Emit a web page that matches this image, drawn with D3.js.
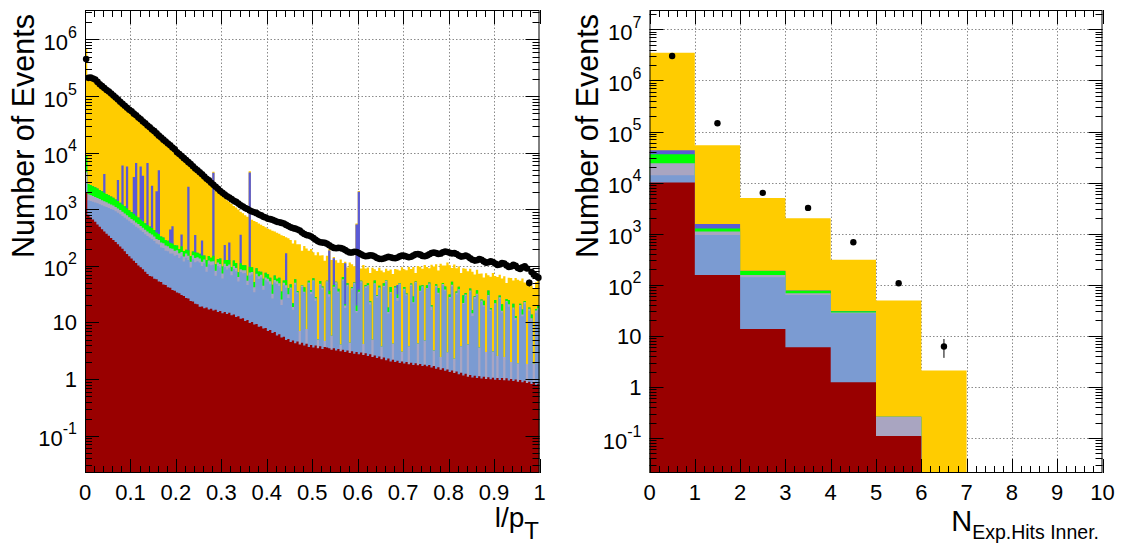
<!DOCTYPE html>
<html><head><meta charset="utf-8">
<script src="https://cdn.jsdelivr.net/npm/d3@7"></script>
<style>body{margin:0;background:#fff}svg{display:block}text{font-family:"Liberation Sans",Arial,Helvetica,sans-serif;fill:#000}</style>
</head><body><svg id="c" width="1123" height="544"></svg>
<script>
// ---------------- LEFT PANEL: l/pT, 200 bins of 0.005 ----------------
const lptBinWidth = 0.005;
const lptData = [450000,210000,212000,205000,196000,178000,162000,150000,139000,128000,
120000,111000,102000,94000,87000,79500,73000,67500,62000,57500,
53700,49000,45700,41700,38900,35500,33100,30200,28200,25700,
24000,21900,20000,18600,17000,15800,14500,13500,12300,11500,
10200,9500,8700,8000,7400,6800,6300,5750,5250,4900,
4500,4150,3800,3470,3240,2950,2700,2500,2300,2100,
1950,1820,1700,1620,1510,1410,1350,1260,1175,1120,
1050,1010,950,915,885,855,805,780,735,715,
680,670,650,625,600,590,575,560,530,505,
480,465,455,440,420,390,365,350,345,330,
310,290,272,262,258,255,245,232,218,208,
205,208,206,200,190,180,172,172,178,176,
168,160,152,148,150,154,152,146,138,133,
132,135,140,144,142,138,136,140,147,152,
150,146,142,145,152,160,162,158,150,148,
152,160,168,172,168,162,165,174,180,176,
170,166,168,162,152,146,148,152,146,136,
128,124,126,132,128,120,114,116,120,117,
110,104,106,112,110,102,96,98,104,100,
92,88,94,98,90,50,78,70,66,62];
const lptRed = [2000,800,725,660,600,540,490,445,405,370,
340,310,288,263,240,219,200,182,162,148,
135,123,112,102,95,87,79,72,66,65,
59,58,53,52,47,46,42,41,37.5,36.5,
34,33,30.5,29.5,27,26.5,24,23.5,21.5,21,
19,19.2,17.8,18.4,16.9,17.5,16.2,16.8,15.3,15.9,
14.6,15.3,14.1,14.8,13.4,13.9,12.5,12.9,11.6,11.9,
10.6,11.1,9.8,10.2,9.2,9.4,8.4,8.6,7.8,8.0,
7.1,7.4,6.5,6.8,5.9,6.2,5.4,5.6,4.9,5.1,
4.5,4.8,4.3,4.6,4.1,4.4,3.9,4.2,3.7,4.0,
3.6,3.9,3.5,3.8,3.4,3.7,3.6,3.5,3.3,3.5,
3.2,3.4,3.1,3.3,3.0,3.2,2.9,3.1,2.8,3.0,
2.75,2.95,2.65,2.85,2.55,2.75,2.45,2.6,2.35,2.5,
2.25,2.4,2.15,2.3,2.05,2.2,2.0,2.1,1.92,2.05,
1.88,2.0,1.82,1.95,1.78,1.9,1.75,1.85,1.7,1.8,
1.68,1.78,1.6,1.7,1.52,1.62,1.46,1.55,1.4,1.48,
1.33,1.42,1.28,1.36,1.22,1.3,1.16,1.24,1.1,1.18,
1.07,1.15,1.04,1.12,1.02,1.1,1.0,1.08,0.99,1.06,
0.97,1.05,0.96,1.04,0.95,1.03,0.94,1.0,0.92,0.98,
0.9,0.96,0.88,0.93,0.85,0.9,0.82,0.87,0.79,0.83];
const lptLightBlue = [1000,650,680,700,720,740,740,735,730,725,
715,700,690,660,630,600,560,530,500,465,
435,410,380,360,330,310,285,265,250,235,
215,190,185,160,160,140,140,125,128,115,
122,105,118,90,112,100,70,108,95,100,
96,80,94,60,90,85,88,50,84,78,
45,80,72,78,55,74,68,40,66,62,
64,35,58,60,25,56,50,54,30,48,
46,40,20,44,42,38,15,40,36,22,
34,12,42,28,0,38,30,0,45,28,
50,20,0,42,35,0,48,25,0,38,
45,30,0,52,15,40,0,35,44,12,
30,48,0,38,42,18,0,45,25,36,
0,40,50,12,30,0,38,22,45,0,
35,28,0,42,20,48,0,33,40,0,
38,45,15,0,40,30,0,44,35,0,
25,42,0,30,36,0,20,28,0,34,
12,25,30,0,22,18,0,28,15,0,
20,0,25,14,0,22,18,0,16,10,
0,18,12,20,0,15,10,0,14,16];
const lptGrey = [1500,400,380,350,330,310,290,270,250,230,
210,200,185,170,160,150,140,130,120,112,
105,98,92,86,80,75,70,66,62,58,
55,52,49,46,44,42,40,38,36,34,
32,30,28,27,26,25,24,23,22,21,
20,19,18.5,18,17,16.5,16,15.5,15,14.5,
14,13.5,13,12.5,12,11.5,11,10.5,10,9.5,
9,8.7,8.4,8.1,7.8,7.5,7.2,7,6.7,6.5,
6.2,6,5.8,5.6,5.4,5.2,5,4.8,4.6,4.4,
3,2,4,1.5,3,2.5,1,3.5,2,3,
2,3,1.5,2.5,3,1,2,3,2.5,1.5,
3,2,1,2.5,2,3,1.5,2,3,1,
2,2.5,1.5,3,1,2,2.5,1.5,2,3,
1.5,2,3,1,2.5,2,1.5,3,2,1,
2.5,1.5,2,3,1,2,2.5,1.5,2,3,
1,2,2.5,1.5,3,2,1,2.5,2,1.5,
2,3,1,2,1.5,2.5,1,2,3,1.5,
1.5,2,1,2.5,1.5,1,2,1.5,1,2,
1,1.5,2,1,1.5,1,2,1,1.5,1,
1,1.5,1,2,1,1.5,1,1,1.5,1];
const lptGreen = [4500,950,900,850,790,730,680,630,580,540,
500,470,430,400,370,340,310,285,260,240,
220,200,185,170,155,145,135,125,120,110,
100,90,80,72,65,60,55,52,48,45,
42,30,45,36,28,38,32,25,35,29,
28,34,22,30,26,20,31,25,18,27,
24,18,28,22,15,25,21,14,24,19,
19,12,20,16,10,18,14,9,15,13,
12,8,14,11,6,12,10,5,11,9,
6,3,8,2,0,1,7,0,4,2,
5,1,0,6,2,0,1,5,0,3,
1,4,0,6,1,3,0,2,1,4,
3,1,0,2,4,1,0,6,1,3,
0,5,1,3,8,0,2,4,1,0,
3,1,0,2,6,1,0,8,2,0,
5,2,1,0,3,7,0,2,5,0,
3,6,0,2,4,0,8,2,0,3,
2,1,5,0,1,4,0,6,1,0,
3,0,2,5,0,2,4,0,3,1,
0,1,3,1,0,1,2,0,1,2];
const lptBlueBins   = [8,14,16,18,21,22,24,25,27,29,31,32,37,38,42,45,48,51,56,61,63,68,72,88,107,109,114,119,120,137];
const lptBlueValues = [2240,1900,4700,4650,2870,5830,5040,3280,6070,2130,1700,4530,185,250,138,2300,176,130,4250,107,132,243,4360,111,150,90,90,520,2000,15];
const lptYellow = [690000,207000,209000,202000,193500,175500,160000,148000,134800,126000,
118000,109300,100400,92500,83700,78200,67100,66400,56300,56500,
52800,45300,39100,41000,33200,31600,32500,23600,27700,23100,
23600,19800,15100,18260,16700,15500,14200,13050,11800,11260,
9970,9300,8340,7820,7200,4310,6150,5570,4900,4730,
4290,3790,3500,3170,2900,2600,200,2170,1940,1735,
1620,1350,1320,1100,1157,1018,967,918,550,749,
685,671,250,556,568,504,483,457,447,407,
383,380,371,337,324,309,314,282,152,267,
240,228,225,205,235,139,182,196,130,161,
113,126,170,98,111,118,97,10,121,8,
74,74,126,49,7,44,110,65,48,20,
60,35,99,44,44,51,88,32,51,48,
79,28,33,64,44,68,45,40,33,92,
45,51,92,39,67,22,95,52,43,99,
50,40,85,94,59,42,107,52,58,112,
71,39,103,55,55,71,61,56,76,49,
62,41,48,69,48,38,71,32,46,72,
41,61,40,39,63,24,37,59,34,48,
55,33,43,27,48,27,31,39,34,48];
const lptXTicks = [0,0.1,0.2,0.3,0.4,0.5,0.6,0.7,0.8,0.9,1];
const lptXTickLabels = ["0","0.1","0.2","0.3","0.4","0.5","0.6","0.7","0.8","0.9","1"];

// ---------------- RIGHT PANEL: N Exp. Hits Inner ----------------
const nexpBinLow = [0,1,2,3,4,5,6,7,8,9];
const nexpRed       = [10000,155,13.7,6.0,1.23,0.11,0,0,0,0];
const nexpLightBlue = [4000,785,126,57,26.5,0,0,0,0,0];
const nexpGrey      = [10000,160,15,5,0.8,0.15,0,0,0,0];
const nexpGreen     = [12000,160,31,8,1.8,0,0,0,0,0];
const nexpBlue      = [7000,290,3,1,0.3,0,0,0,0,0];
const nexpYellow    = [3457000,52450,4810,1925,277,49,2.1,0,0,0];
const nexpData      = [3.0e6,1.45e5,6300,3200,680,107,6.2,0,0,0];
const nexpXTicks = [0,1,2,3,4,5,6,7,8,9,10];

const seriesKeys   = ["red","lightblue","grey","green","blue","yellow"];
const seriesColors = {red:"#990000",lightblue:"#7b9bd2",grey:"#a9a5c1",green:"#00ff00",blue:"#5a5ad6",yellow:"#ffcc00"};

const svg = d3.select("#c");

function buildTable(n, comps){
  return d3.range(n).map(i => {
    const r = {i};
    seriesKeys.forEach(k => r[k] = comps[k][i]);
    return r;
  });
}

function drawPanel(o){
  const x = d3.scaleLinear().domain(o.xDomain).range([o.left, o.right]);
  const y = d3.scaleLog().domain(o.yDomain).range([o.bottom, o.top]).clamp(true);
  const yv = v => v > 0 ? y(v) : o.bottom;
  const g = svg.append("g");
  const clipId = "clip" + o.id;
  svg.append("clipPath").attr("id", clipId).append("rect")
    .attr("x", o.left).attr("y", o.top).attr("width", o.right - o.left).attr("height", o.bottom - o.top);

  const kMin = Math.floor(Math.log10(o.yDomain[0])), kMax = Math.ceil(Math.log10(o.yDomain[1]));
  const yMajor = [], yMinor = [];
  for (let k = kMin; k <= kMax; k++) for (let m = 1; m <= 9; m++) {
    const v = m * Math.pow(10, k);
    if (v < o.yDomain[0] || v > o.yDomain[1]) continue;
    (m === 1 ? yMajor : yMinor).push({v, k});
  }
  const xStep = o.xMajor[1] - o.xMajor[0];
  const xMinor = [];
  o.xMajor.forEach(v => { for (let j = 1; j < 5; j++) { const w = v + j * xStep / 5; if (w < o.xDomain[1] - 1e-9) xMinor.push(w); } });

  // grid
  const grid = g.append("g").attr("stroke", "#8a8a8a").attr("stroke-width", 1).attr("stroke-dasharray", "1.5,2");
  o.xMajor.forEach(v => { if (v > o.xDomain[0] && v < o.xDomain[1]) {
    const px = Math.round(x(v)) + 0.5;
    grid.append("line").attr("x1", px).attr("x2", px).attr("y1", o.top).attr("y2", o.bottom); }});
  yMajor.forEach(t => { const py = Math.round(y(t.v)) + 0.5;
    grid.append("line").attr("x1", o.left).attr("x2", o.right).attr("y1", py).attr("y2", py); });

  // stacked histograms (cumulative, drawn from top sum downwards)
  const table = buildTable(o.n, o.comps);
  const stacked = d3.stack().keys(seriesKeys)(table);
  const hg = g.append("g").attr("clip-path", `url(#${clipId})`);
  const area = d3.area().curve(d3.curveStepAfter)
    .x(d => x(d.x)).y0(o.bottom).y1(d => yv(d.v));
  stacked.slice().reverse().forEach(s => {
    const pts = s.map((d, i) => ({x: o.edge(i), v: d[1]}));
    pts.push({x: o.edge(o.n), v: s[o.n - 1][1]});
    hg.append("path").attr("d", area(pts)).attr("fill", seriesColors[s.key]).attr("stroke", "none");
  });

  // data points
  const dg = g.append("g");
  o.data.forEach((v, i) => {
    if (!(v > 0)) return;
    const cx = x(o.edge(i) + o.bw / 2), e = Math.sqrt(v);
    dg.append("line").attr("x1", cx).attr("x2", cx).attr("y1", yv(v + e)).attr("y2", yv(Math.max(v - e, 1e-9)))
      .attr("stroke", "#000").attr("stroke-width", 1);
    dg.append("circle").attr("cx", cx).attr("cy", y(v)).attr("r", o.r).attr("fill", "#000");
  });

  // frame
  g.append("rect").attr("x", o.left + 0.5).attr("y", o.top + 0.5)
    .attr("width", o.right - o.left - 1).attr("height", o.bottom - o.top - 1)
    .attr("fill", "none").attr("stroke", "#000").attr("stroke-width", 1);

  // ticks
  const tg = g.append("g").attr("stroke", "#000").attr("stroke-width", 1);
  const M = 14, m = 7;
  o.xMajor.forEach(v => { const px = Math.round(x(v)) + 0.5;
    tg.append("line").attr("x1", px).attr("x2", px).attr("y1", o.bottom).attr("y2", o.bottom - M);
    tg.append("line").attr("x1", px).attr("x2", px).attr("y1", o.top).attr("y2", o.top + M); });
  xMinor.forEach(v => { const px = Math.round(x(v)) + 0.5;
    tg.append("line").attr("x1", px).attr("x2", px).attr("y1", o.bottom).attr("y2", o.bottom - m);
    tg.append("line").attr("x1", px).attr("x2", px).attr("y1", o.top).attr("y2", o.top + m); });
  yMajor.forEach(t => { const py = Math.round(y(t.v)) + 0.5;
    tg.append("line").attr("x1", o.left).attr("x2", o.left + M).attr("y1", py).attr("y2", py);
    tg.append("line").attr("x1", o.right).attr("x2", o.right - M).attr("y1", py).attr("y2", py); });
  yMinor.forEach(t => { const py = Math.round(y(t.v)) + 0.5;
    tg.append("line").attr("x1", o.left).attr("x2", o.left + m).attr("y1", py).attr("y2", py);
    tg.append("line").attr("x1", o.right).attr("x2", o.right - m).attr("y1", py).attr("y2", py); });

  // x tick labels
  o.xMajor.forEach((v, i) => {
    g.append("text").attr("x", x(v)).attr("y", 499.5).attr("text-anchor", "middle")
      .attr("font-size", 22).text(o.xLabels[i]);
  });
  // y tick labels
  yMajor.forEach(t => {
    const tx = g.append("text").attr("x", o.left - 8).attr("text-anchor", "end").attr("font-size", 22);
    if (t.k === 0 || t.k === 1) {
      tx.attr("y", y(t.v) + 8).text(t.k === 0 ? "1" : "10");
    } else {
      tx.attr("y", y(t.v) + 10.5);
      tx.append("tspan").text("10");
      tx.append("tspan").attr("dy", -12).attr("font-size", 16).text(String(t.k));
    }
  });
  // y title
  g.append("text").attr("transform", `translate(${o.yTitleX},14) rotate(-90)`)
    .attr("text-anchor", "end").attr("font-size", 30.5).text("Number of Events");
  // x title
  const xt = g.append("text").attr("x", o.xTitleEnd).attr("y", o.xTitleY).attr("text-anchor", "end");
  xt.append("tspan").attr("font-size", o.xTitleSize).text(o.xTitleMain);
  xt.append("tspan").attr("font-size", o.xSubSize).attr("dy", o.xSubDy).text(o.xTitleSub);
}

// left panel
const lptComps = {red: lptRed, lightblue: lptLightBlue, grey: lptGrey, green: lptGreen,
  blue: lptRed.map((_, i) => { const j = lptBlueBins.indexOf(i); return j >= 0 ? lptBlueValues[j] : 0; }),
  yellow: lptYellow};
drawPanel({id: "L", left: 85, right: 539.5, top: 10, bottom: 473,
  xDomain: [0, 1], yDomain: [0.0219, 3.32e6], n: lptData.length, bw: lptBinWidth,
  edge: i => i * lptBinWidth, comps: lptComps, data: lptData, r: 3.3,
  xMajor: lptXTicks, xLabels: lptXTickLabels, yTitleX: 34,
  xTitleEnd: 539, xTitleY: 527, xTitleMain: "l/p", xTitleSub: "T", xTitleSize: 28, xSubSize: 24, xSubDy: 12});

// right panel
const nexpComps = {red: nexpRed, lightblue: nexpLightBlue, grey: nexpGrey, green: nexpGreen, blue: nexpBlue, yellow: nexpYellow};
drawPanel({id: "R", left: 649.5, right: 1102.5, top: 10, bottom: 473,
  xDomain: [0, 10], yDomain: [0.0207, 2.39e7], n: nexpBinLow.length, bw: 1,
  edge: i => (i < nexpBinLow.length ? nexpBinLow[i] : nexpBinLow[nexpBinLow.length - 1] + 1), comps: nexpComps, data: nexpData, r: 3.2,
  xMajor: nexpXTicks, xLabels: nexpXTicks.map(String), yTitleX: 598,
  xTitleEnd: 1099, xTitleY: 531, xTitleMain: "N", xTitleSub: "Exp.Hits Inner.", xTitleSize: 29, xSubSize: 19.5, xSubDy: 8});
</script></body></html>
